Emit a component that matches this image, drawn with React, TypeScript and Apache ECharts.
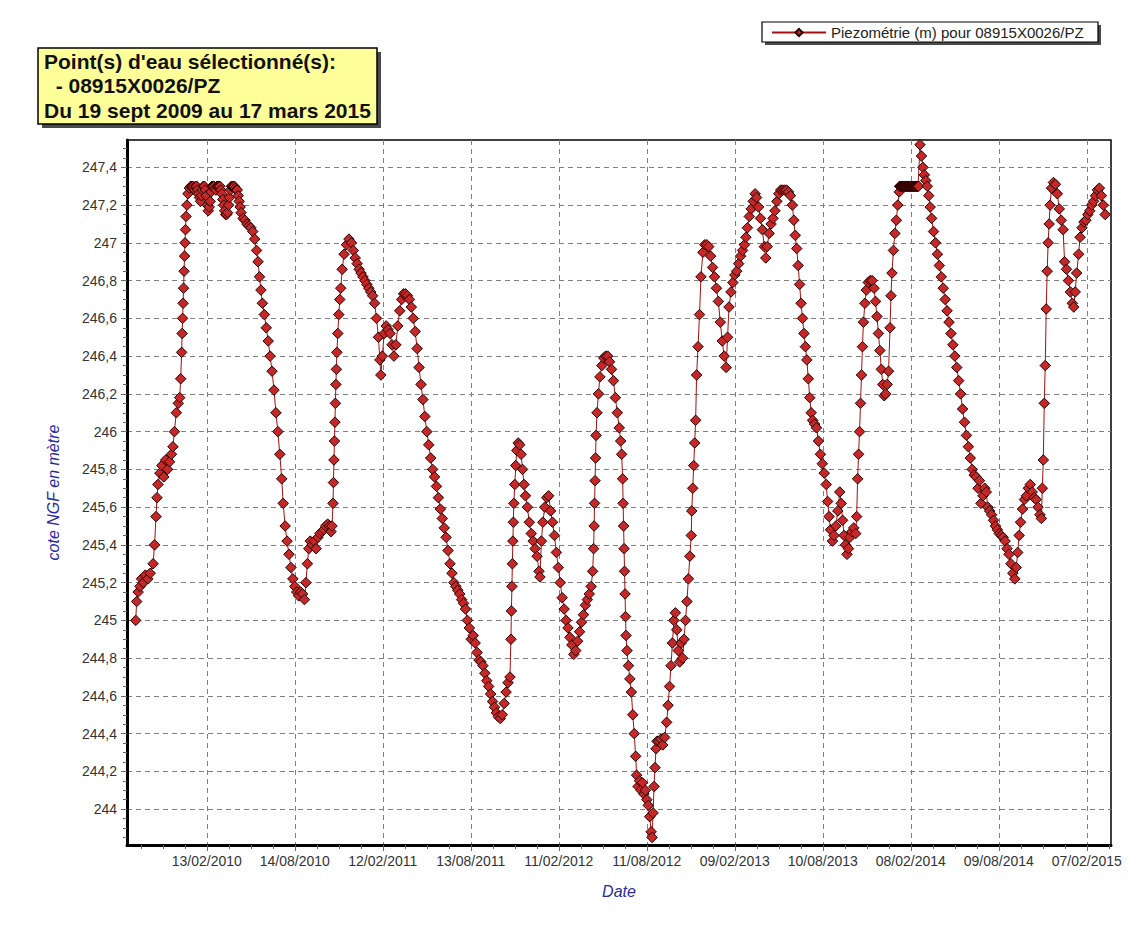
import React, { useEffect, useRef } from 'react';
import * as echarts from 'echarts';

// Day 0 of the readings = 19/09/2009 (first measurement)
const ORIGIN_UTC = Date.UTC(2009, 8, 19);
const DAY_MS = 86400000;

const seriesName = 'Piezométrie (m) pour 08915X0026/PZ';
const infoLines = ["Point(s) d'eau sélectionné(s):", '  - 08915X0026/PZ', 'Du 19 sept 2009 au 17 mars 2015'];
const xAxisName = 'Date';
const yAxisName = 'cote NGF en mètre';

const xTickLabels = [
  '13/02/2010', '14/08/2010', '12/02/2011', '13/08/2011', '11/02/2012', '11/08/2012',
  '09/02/2013', '10/08/2013', '08/02/2014', '09/08/2014', '07/02/2015',
];
const yTickValues = [
  244, 244.2, 244.4, 244.6, 244.8, 245, 245.2, 245.4, 245.6, 245.8,
  246, 246.2, 246.4, 246.6, 246.8, 247, 247.2, 247.4,
];
const minorPerMajor = 4;

// [days since 19/09/2009, level in m NGF]
const cycle2009: [number, number][] = [
  [0, 245.0], [2, 245.1], [5, 245.15], [9, 245.18], [12, 245.22], [16, 245.2], [20, 245.24], [25, 245.22],
  [30, 245.25], [36, 245.3], [39, 245.4], [42, 245.55], [44, 245.65], [46, 245.72], [50, 245.78], [54, 245.82],
  [58, 245.76], [62, 245.85], [66, 245.8], [70, 245.84], [74, 245.88], [77, 245.92], [80, 246.0], [84, 246.1],
  [88, 246.15], [91, 246.18], [93, 246.28], [95, 246.42], [96, 246.52], [97, 246.6], [98, 246.68], [99, 246.76],
  [100, 246.85], [101, 246.93], [102, 247.0], [103, 247.07], [104, 247.14], [106, 247.2], [108, 247.26], [111, 247.29],
  [114, 247.3], [116, 247.3], [118, 247.3], [120, 247.29], [122, 247.28], [124, 247.3], [126, 247.3], [128, 247.28],
  [130, 247.26], [132, 247.24], [134, 247.22], [136, 247.25], [138, 247.28], [140, 247.3], [142, 247.3], [144, 247.28],
  [146, 247.25], [148, 247.2], [150, 247.17], [152, 247.19], [154, 247.22], [156, 247.27], [158, 247.3], [160, 247.3],
  [162, 247.3], [164, 247.29], [166, 247.28], [168, 247.3], [170, 247.3], [172, 247.3], [174, 247.3], [176, 247.28],
  [178, 247.26], [180, 247.23], [182, 247.2], [184, 247.17], [186, 247.15], [188, 247.15], [190, 247.16], [192, 247.2],
  [194, 247.24], [196, 247.28], [198, 247.3], [200, 247.3], [202, 247.3], [204, 247.3], [206, 247.29], [208, 247.28],
  [210, 247.28], [212, 247.25], [214, 247.22], [216, 247.19], [218, 247.16], [222, 247.13], [226, 247.12], [230, 247.1],
  [234, 247.09], [238, 247.08], [242, 247.06], [246, 247.02], [250, 246.96], [253, 246.9], [256, 246.82], [259, 246.75],
  [262, 246.68], [266, 246.62], [270, 246.55], [274, 246.48], [278, 246.4], [282, 246.32], [286, 246.22], [290, 246.1],
  [294, 246.0], [298, 245.88], [302, 245.75], [305, 245.62], [309, 245.5], [313, 245.42], [317, 245.35], [321, 245.28],
  [325, 245.22], [329, 245.18], [333, 245.15], [337, 245.13],
];

const cycle2010: [number, number][] = [
  [341, 245.15], [345, 245.14], [349, 245.11], [352, 245.2], [355, 245.3], [358, 245.38], [361, 245.42], [365, 245.4],
  [369, 245.42], [373, 245.38], [377, 245.44], [381, 245.46], [385, 245.47], [389, 245.48], [393, 245.5], [397, 245.51],
  [401, 245.5], [404, 245.47], [406, 245.5], [408, 245.62], [409, 245.73], [410, 245.85], [411, 245.95], [412, 246.05],
  [413, 246.15], [414, 246.25], [415, 246.33], [416, 246.42], [418, 246.52], [420, 246.62], [422, 246.7], [424, 246.76],
  [427, 246.86], [431, 246.94], [436, 246.99], [441, 247.02], [446, 247.0], [450, 246.96], [454, 246.92], [458, 246.89],
  [462, 246.86], [466, 246.84], [470, 246.82], [474, 246.8], [478, 246.78], [482, 246.76], [486, 246.74], [490, 246.72],
  [494, 246.68], [498, 246.6], [502, 246.5], [505, 246.38], [507, 246.3], [510, 246.4], [514, 246.52], [518, 246.56],
  [522, 246.54], [526, 246.52], [530, 246.46], [534, 246.4], [538, 246.46], [542, 246.56], [546, 246.64], [550, 246.7],
  [554, 246.73], [558, 246.73], [562, 246.72], [566, 246.7], [570, 246.66], [574, 246.6], [578, 246.53], [582, 246.44],
  [586, 246.34], [590, 246.25], [594, 246.17], [598, 246.08], [602, 246.0], [606, 245.93], [610, 245.86], [614, 245.8],
  [618, 245.76], [622, 245.71], [626, 245.65], [630, 245.59], [634, 245.54], [638, 245.49], [642, 245.44], [646, 245.37],
  [650, 245.3], [654, 245.25], [658, 245.2], [662, 245.18], [666, 245.16], [670, 245.14], [674, 245.11], [678, 245.09],
  [682, 245.06], [686, 245.0], [690, 244.96], [694, 244.9],
];

const cycle2011: [number, number][] = [
  [698, 244.92], [702, 244.88], [706, 244.83], [710, 244.79], [714, 244.78], [718, 244.76], [722, 244.72], [726, 244.68],
  [730, 244.65], [734, 244.61], [738, 244.57], [742, 244.54], [746, 244.51], [750, 244.49], [754, 244.48], [758, 244.5],
  [762, 244.56], [766, 244.62], [770, 244.67], [774, 244.7], [776, 244.9], [777, 245.05], [778, 245.18], [779, 245.3],
  [780, 245.42], [781, 245.52], [782, 245.62], [784, 245.72], [786, 245.82], [788, 245.9], [791, 245.94], [794, 245.93],
  [797, 245.88], [800, 245.8], [803, 245.72], [806, 245.66], [810, 245.6], [814, 245.52], [818, 245.46], [822, 245.42],
  [826, 245.38], [830, 245.34], [834, 245.26], [836, 245.23], [839, 245.42], [842, 245.52], [846, 245.6], [850, 245.65],
  [854, 245.66], [858, 245.58], [862, 245.52], [866, 245.45], [870, 245.36], [874, 245.28], [878, 245.2], [882, 245.12],
  [886, 245.06], [890, 245.0], [894, 244.96], [898, 244.91], [902, 244.87], [906, 244.82], [910, 244.84], [914, 244.89],
  [918, 244.94], [922, 244.99], [926, 245.03], [930, 245.08], [934, 245.11], [938, 245.14], [942, 245.18], [945, 245.26],
  [947, 245.38], [948, 245.5], [949, 245.62], [950, 245.74], [951, 245.86], [952, 245.98], [954, 246.1], [957, 246.2],
  [960, 246.29], [964, 246.35], [968, 246.39], [972, 246.4], [976, 246.4], [980, 246.37], [984, 246.33], [988, 246.27],
  [992, 246.18], [996, 246.1], [1000, 246.02], [1003, 245.95], [1005, 245.88], [1007, 245.75], [1008, 245.62], [1009, 245.5],
  [1010, 245.38], [1011, 245.26], [1012, 245.14], [1013, 245.02], [1014, 244.92], [1016, 244.84], [1019, 244.76], [1022, 244.69],
  [1025, 244.62], [1028, 244.5], [1031, 244.4], [1034, 244.28], [1036, 244.18], [1039, 244.12], [1042, 244.15], [1045, 244.1],
  [1048, 244.14], [1051, 244.08], [1054, 244.1], [1057, 244.05], [1060, 244.02], [1063, 243.96], [1066, 243.88], [1068, 243.85],
];

const cycle2012: [number, number][] = [
  [1070, 243.98], [1072, 244.12], [1074, 244.22], [1076, 244.32], [1078, 244.36], [1082, 244.36], [1086, 244.37], [1090, 244.34],
  [1094, 244.38], [1098, 244.46], [1101, 244.55], [1104, 244.65], [1107, 244.76], [1110, 244.88], [1113, 245.0], [1116, 245.04],
  [1119, 244.95], [1122, 244.84], [1125, 244.78], [1128, 244.88], [1131, 244.8], [1134, 244.9], [1137, 245.0], [1140, 245.1],
  [1143, 245.22], [1146, 245.34], [1149, 245.45], [1150, 245.58], [1152, 245.7], [1154, 245.82], [1156, 245.94], [1158, 246.06],
  [1160, 246.3], [1163, 246.45], [1166, 246.62], [1169, 246.82], [1173, 246.95], [1177, 246.99], [1181, 246.99], [1185, 246.98],
  [1189, 246.93], [1193, 246.87], [1197, 246.82], [1201, 246.76], [1205, 246.69], [1209, 246.58], [1213, 246.48], [1217, 246.4],
  [1221, 246.34], [1224, 246.5], [1227, 246.66], [1231, 246.74], [1235, 246.79], [1239, 246.83], [1243, 246.85], [1247, 246.89],
  [1251, 246.93], [1255, 246.96], [1259, 246.99], [1262, 247.03], [1265, 247.08], [1269, 247.14], [1273, 247.18], [1277, 247.22],
  [1281, 247.26], [1284, 247.24], [1288, 247.19], [1292, 247.13], [1296, 247.07], [1300, 246.98], [1303, 246.92], [1306, 246.98],
  [1310, 247.05], [1314, 247.1], [1318, 247.13], [1322, 247.17], [1326, 247.22], [1330, 247.26], [1334, 247.28], [1338, 247.28],
  [1342, 247.28], [1346, 247.28], [1350, 247.27], [1354, 247.25], [1358, 247.2], [1361, 247.12], [1364, 247.04], [1367, 246.97],
  [1370, 246.88], [1373, 246.78], [1376, 246.68], [1379, 246.6], [1382, 246.52], [1385, 246.45], [1388, 246.38], [1391, 246.28],
  [1394, 246.18], [1397, 246.1], [1400, 246.06], [1404, 246.04], [1408, 246.02], [1412, 245.95], [1416, 245.88], [1420, 245.83],
];

const cycle2013: [number, number][] = [
  [1424, 245.78], [1428, 245.72], [1431, 245.63], [1434, 245.55], [1437, 245.48], [1441, 245.42], [1444, 245.45], [1448, 245.5],
  [1452, 245.58], [1456, 245.68], [1459, 245.62], [1462, 245.53], [1465, 245.45], [1468, 245.4], [1471, 245.35], [1474, 245.38],
  [1477, 245.44], [1481, 245.47], [1485, 245.49], [1489, 245.46], [1491, 245.55], [1493, 245.75], [1495, 245.88], [1497, 246.0],
  [1499, 246.15], [1501, 246.3], [1503, 246.45], [1505, 246.58], [1508, 246.68], [1511, 246.75], [1515, 246.79], [1519, 246.8],
  [1523, 246.8], [1527, 246.76], [1530, 246.69], [1533, 246.61], [1536, 246.52], [1539, 246.43], [1542, 246.33], [1545, 246.25],
  [1548, 246.19], [1551, 246.2], [1554, 246.25], [1557, 246.32], [1560, 246.55], [1562, 246.72], [1564, 246.84], [1567, 246.96],
  [1570, 247.05], [1573, 247.12], [1576, 247.2], [1579, 247.27],
  [1580, 247.3], [1581, 247.3], [1582, 247.3], [1583, 247.3], [1584, 247.3], [1585, 247.3], [1586, 247.3], [1587, 247.3],
  [1588, 247.3], [1589, 247.3], [1590, 247.3], [1591, 247.3], [1592, 247.3], [1593, 247.3], [1594, 247.3], [1595, 247.3],
  [1596, 247.3], [1597, 247.3], [1598, 247.3], [1599, 247.3], [1600, 247.3], [1601, 247.3], [1602, 247.3], [1603, 247.3],
  [1604, 247.3], [1605, 247.3], [1606, 247.3], [1607, 247.3], [1608, 247.3], [1609, 247.3], [1610, 247.3], [1611, 247.3],
  [1612, 247.3], [1613, 247.3], [1614, 247.3], [1615, 247.3], [1616, 247.3], [1617, 247.3], [1618, 247.3], [1619, 247.3],
  [1622, 247.52], [1625, 247.46], [1628, 247.4], [1631, 247.36], [1634, 247.33], [1637, 247.3], [1640, 247.25], [1643, 247.19],
  [1646, 247.13], [1650, 247.06], [1654, 247.0], [1658, 246.94], [1662, 246.88], [1666, 246.82], [1670, 246.76], [1674, 246.7],
  [1678, 246.64], [1682, 246.58], [1686, 246.52], [1690, 246.46], [1694, 246.4], [1698, 246.34], [1702, 246.27], [1706, 246.2],
  [1710, 246.12], [1714, 246.05], [1718, 245.98], [1722, 245.92], [1726, 245.86], [1730, 245.8], [1734, 245.77], [1738, 245.76],
  [1742, 245.7], [1745, 245.74], [1748, 245.62], [1752, 245.66], [1756, 245.7], [1759, 245.68], [1762, 245.6], [1766, 245.58],
  [1770, 245.56], [1774, 245.53], [1778, 245.5], [1782, 245.48], [1786, 245.46], [1790, 245.45], [1794, 245.44], [1798, 245.42],
  [1802, 245.38], [1806, 245.35], [1810, 245.3], [1814, 245.25], [1818, 245.22],
];

const cycle2014: [number, number][] = [
  [1821, 245.28], [1824, 245.36], [1827, 245.45], [1830, 245.52], [1834, 245.59], [1838, 245.64], [1842, 245.66], [1846, 245.7],
  [1850, 245.72], [1854, 245.68], [1858, 245.65], [1862, 245.64], [1866, 245.6], [1870, 245.56], [1873, 245.54], [1875, 245.7],
  [1877, 245.85], [1879, 246.15], [1881, 246.35], [1883, 246.65], [1885, 246.85], [1887, 247.0], [1889, 247.1], [1891, 247.2],
  [1894, 247.29], [1898, 247.32], [1902, 247.31], [1906, 247.26], [1910, 247.18], [1914, 247.12], [1918, 247.07], [1921, 246.9],
  [1925, 246.86], [1929, 246.8], [1933, 246.74], [1937, 246.68], [1940, 246.66], [1943, 246.74], [1946, 246.84], [1950, 246.94],
  [1953, 247.03], [1957, 247.08], [1961, 247.11], [1965, 247.12], [1969, 247.15], [1973, 247.17], [1977, 247.2], [1981, 247.22],
  [1985, 247.25], [1989, 247.28], [1993, 247.29], [1997, 247.25], [2001, 247.2], [2005, 247.15],
];

const readings = [...cycle2009, ...cycle2010, ...cycle2011, ...cycle2012, ...cycle2013, ...cycle2014];

const X_MIN = -18;
const X_MAX = 2017;
const Y_MIN = 243.81;
const Y_MAX = 247.545;

function labelToDay(label: string): number {
  const [dd, mm, yy] = label.split('/').map(Number);
  return Math.round((Date.UTC(yy, mm - 1, dd) - ORIGIN_UTC) / DAY_MS);
}
function dayToLabel(day: number): string {
  const dt = new Date(ORIGIN_UTC + Math.round(day) * DAY_MS);
  const p = (n: number) => String(n).padStart(2, '0');
  return `${p(dt.getUTCDate())}/${p(dt.getUTCMonth() + 1)}/${dt.getUTCFullYear()}`;
}
const xTickDays = xTickLabels.map(labelToDay);

// minor ticks: subdivisions of the major steps, within the axis range
function minorTicks(majors: number[], lo: number, hi: number): number[] {
  const step = majors[1] - majors[0];
  const sub = step / minorPerMajor;
  const out: number[] = [];
  const first = majors[0];
  for (let k = -Math.ceil((first - lo) / sub); first + k * sub <= hi; k++) {
    if (k % minorPerMajor === 0) continue;
    const v = first + k * sub;
    if (v > lo && v < hi) out.push(Math.round(v * 1000) / 1000);
  }
  return out;
}
const xMinorDays = minorTicks(xTickDays, X_MIN, X_MAX);
const yMinorValues = minorTicks(yTickValues, Y_MIN, Y_MAX);

const FONT = '"Liberation Sans", Arial, sans-serif';
const NAME_STYLE = { fontStyle: 'italic', color: '#2b2ba0', fontSize: 16, fontFamily: FONT };
const GRID_LINE = { show: true, lineStyle: { color: '#808080', type: [5, 4], width: 1 } };

export default function App() {
  const ref = useRef<HTMLDivElement>(null);
  useEffect(() => {
    if (!ref.current) return;
    const chart = echarts.init(ref.current, undefined, { renderer: 'svg' });
    const option: any = {
      animation: false,
      backgroundColor: '#ffffff',
      textStyle: { fontFamily: FONT },
      grid: {
        left: 127, right: 27, top: 140, bottom: 85,
        show: true, borderColor: '#000', borderWidth: 1.5, backgroundColor: 'transparent',
      },
      legend: {
        left: 766, top: 20, itemWidth: 54, itemHeight: 9, itemGap: 6,
        textStyle: { fontSize: 15, color: '#222', fontFamily: FONT },
        data: [seriesName],
      },
      xAxis: [
        {
          type: 'value', min: X_MIN, max: X_MAX,
          name: xAxisName, nameLocation: 'middle', nameGap: 38, nameTextStyle: NAME_STYLE,
          axisLine: { show: true, onZero: false, lineStyle: { color: '#000', width: 3 } },
          axisTick: { show: true, length: 6, customValues: xTickDays, lineStyle: { color: '#666' } },
          axisLabel: {
            customValues: xTickDays, formatter: (v: number) => dayToLabel(v),
            color: '#333', fontSize: 14, margin: 9, fontFamily: FONT,
          },
          splitLine: GRID_LINE,
        },
        {
          type: 'value', min: X_MIN, max: X_MAX, position: 'bottom',
          axisLine: { show: false, onZero: false },
          axisTick: { show: true, length: 4, customValues: xMinorDays, lineStyle: { color: '#666' } },
          axisLabel: { show: false },
          splitLine: { show: false },
        },
      ],
      yAxis: [
        {
          type: 'value', min: Y_MIN, max: Y_MAX,
          name: yAxisName, nameLocation: 'middle', nameGap: 66, nameRotate: 90, nameTextStyle: NAME_STYLE,
          axisLine: { show: true, onZero: false, lineStyle: { color: '#000', width: 3 } },
          axisTick: { show: true, length: 6, customValues: yTickValues, lineStyle: { color: '#666' } },
          axisLabel: {
            customValues: yTickValues,
            formatter: (v: number) => String(Math.round(v * 10) / 10).replace('.', ','),
            color: '#333', fontSize: 14, margin: 10, fontFamily: FONT,
          },
          splitLine: GRID_LINE,
        },
        {
          type: 'value', min: Y_MIN, max: Y_MAX, position: 'left',
          axisLine: { show: false, onZero: false },
          axisTick: { show: true, length: 4, customValues: yMinorValues, lineStyle: { color: '#666' } },
          axisLabel: { show: false },
          splitLine: { show: false },
        },
      ],
      graphic: [
        { type: 'rect', z: 1, shape: { x: 42, y: 52, width: 339, height: 76 }, style: { fill: '#4a4a4a' } },
        { type: 'rect', z: 2, shape: { x: 38, y: 48, width: 339, height: 76 }, style: { fill: '#ffff99', stroke: '#000', lineWidth: 1.5 } },
        ...infoLines.map((t, i) => ({
          type: 'text', z: 3, x: 44, y: 61 + i * 24.5,
          style: { text: t, fill: '#111', font: `bold 21px ${FONT}`, verticalAlign: 'middle' },
        })),
        { type: 'rect', z: 1, shape: { x: 765, y: 25, width: 336, height: 20 }, style: { fill: '#4a4a4a' } },
        { type: 'rect', z: 2, shape: { x: 762, y: 22, width: 336, height: 20 }, style: { fill: '#fff', stroke: '#000', lineWidth: 1.2 } },
      ],
      series: [
        {
          name: seriesName,
          type: 'line',
          xAxisIndex: 0,
          yAxisIndex: 0,
          data: readings,
          showAllSymbol: true,
          symbol: 'diamond',
          symbolSize: 10.5,
          lineStyle: { color: '#a31010', width: 1 },
          itemStyle: { color: '#c42828', borderColor: '#2a0000', borderWidth: 1 },
          z: 3,
        },
      ],
    };
    chart.setOption(option);
    return () => chart.dispose();
  }, []);
  return <div ref={ref} style={{ width: 1138, height: 930, position: 'absolute', left: 0, top: 0 }} />;
}
